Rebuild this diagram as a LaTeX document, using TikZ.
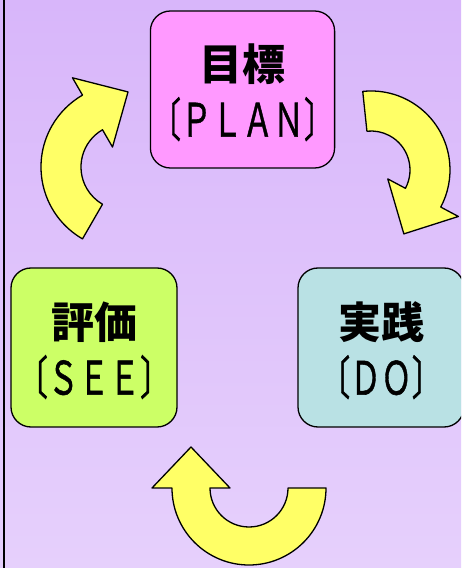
\documentclass[tikz,border=0pt]{standalone}
\usepackage{fontspec}
\usepackage{graphicx}
\usetikzlibrary{calc,positioning}
\newfontfamily\cjk{Noto Sans CJK JP}
\definecolor{bgTop}{HTML}{D8B6FA}
\definecolor{bgMid}{HTML}{EDDDFD}
\definecolor{bgBot}{HTML}{E6D0FC}
\definecolor{planPink}{HTML}{FF99FF}
\definecolor{doBlue}{HTML}{B9E1E4}
\definecolor{seeGreen}{HTML}{CCFF66}
\definecolor{arrowYellow}{HTML}{FFFF66}
\tikzset{
    phase/.style={
        rectangle,
        rounded corners=20pt,
        draw=black,
        line width=1.3pt,
        minimum width=166pt,
        minimum height=159pt,
        inner sep=0pt,
        align=center,
        font=\cjk\fontsize{43}{56}\selectfont
    },
    loopArrow/.style={
        draw=black,
        line width=1.3pt,
        fill=arrowYellow,
        line join=round
    }
}
% titulo e subtitulo de cada fase
\newcommand{\phaseTitle}[1]{\raisebox{-3pt}[\height][\depth]{\bfseries #1}}
\newcommand{\phaseSub}[1]{\raisebox{-3pt}[\height][\depth]{\scalebox{1}[1.5]{\fontsize{30.7}{36}\selectfont\addfontfeatures{FakeBold=1.2}#1}}}
% seta curva: centro, angulo inicial, angulo final, raio interno, raio externo
\newcommand{\loopArrowAt}[5]{%
    \pgfmathsetmacro\rmid{(#4+#5)/2}%
    \pgfmathsetmacro\rhin{#4-20}%
    \pgfmathsetmacro\rhout{#5+20}%
    \pgfmathsetmacro\tipdir{#3-90}%
    \draw[loopArrow] ($(#1)+(#2:#5pt)$) arc[start angle=#2, end angle=#3, radius=#5pt]
        -- ($(#1)+(#3:\rhout pt)$) -- ($(#1)+(#3:\rmid pt)+(\tipdir:41pt)$)
        -- ($(#1)+(#3:\rhin pt)$) -- ($(#1)+(#3:#4pt)$)
        arc[start angle=#3, end angle=#2, radius=#4pt] -- cycle;}

\begin{document}
\begin{tikzpicture}[x=1pt, y=1pt]

    % Fundo
    \useasboundingbox (0,0) rectangle (461,568);
    \clip (0,0) rectangle (461,568);
    \shade[top color=bgTop, middle color=bgMid, bottom color=bgBot] (0,0) rectangle (461,568);
    \draw[line width=2pt] (4,0) -- (4,568);

    % Fases
    \node[phase, fill=planPink, minimum width=179pt, minimum height=157pt] (plan) at (242.5,478.5)
        {\phaseTitle{目標}\\\phaseSub{〔ＰＬＡＮ〕}};
    \node[phase, fill=doBlue] (do) at (381,220.5)
        {\phaseTitle{実践}\\\phaseSub{〔ＤＯ〕}};
    \node[phase, fill=seeGreen] (see) at (94,220.5)
        {\phaseTitle{評価}\\\phaseSub{〔ＳＥＥ〕}};

    % Centros das setas
    \coordinate (loopPD) at (371,398);
    \coordinate (loopDS) at (249,80);
    \coordinate (loopSP) at (124,401);

    % Setas do ciclo
    \loopArrowAt{loopPD}{96}{-28}{39}{79}
    \loopArrowAt{loopDS}{0}{-180}{39}{77}
    \loopArrowAt{loopSP}{240}{120}{43}{83}

\end{tikzpicture}
\end{document}
